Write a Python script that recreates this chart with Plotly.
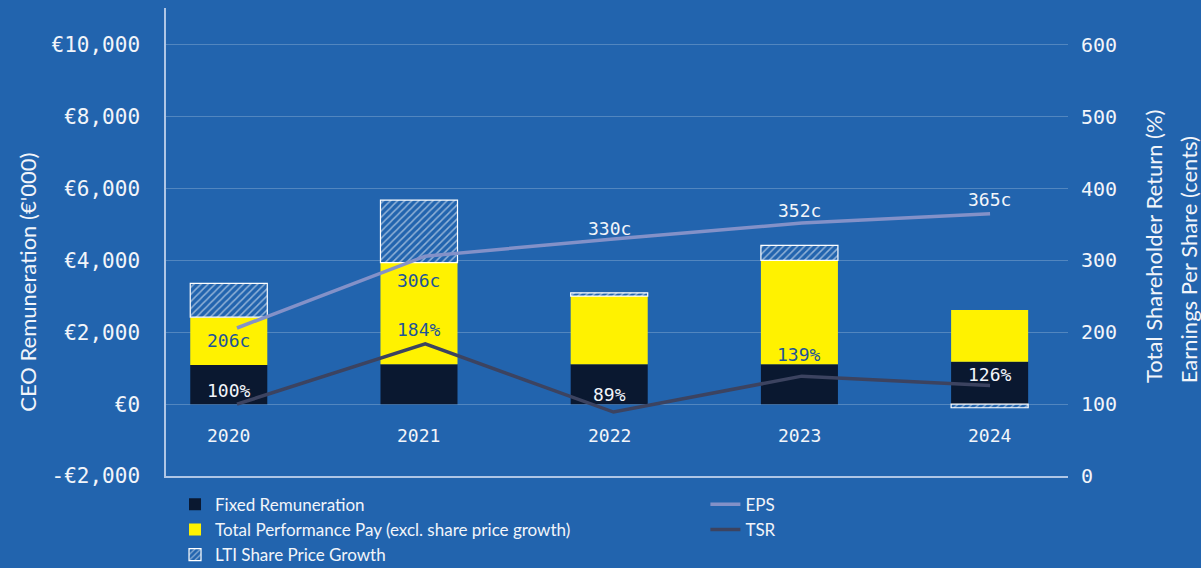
import plotly.graph_objects as go

# ---- data ----
years = ["2020", "2021", "2022", "2023", "2024"]
fixed_pay = [1090, 1110, 1110, 1110, 1180]
performance_pay = [1330, 2830, 1900, 2890, 1440]
lti_growth = [940, 1740, 90, 420, -100]
eps_cents = [206, 306, 330, 352, 365]
tsr_pct = [100, 184, 89, 139, 126]

left_ticks = [-2000, 0, 2000, 4000, 6000, 8000, 10000]
left_tick_text = ["-€2,000", "€0", "€2,000", "€4,000", "€6,000", "€8,000", "€10,000"]
right_ticks = [0, 100, 200, 300, 400, 500, 600]

# ---- styles ----
BG = "#2264AE"
GRID = "rgba(255,255,255,0.22)"
AXIS = "#AFC6E6"
TXT = "#F2F5FA"
DARK_TXT = "#1D5499"
NUM_FONT = "DejaVu Sans Mono"
TXT_FONT = "Lato"

eps_label_shift = [-12, -24, 10, 13, 14]
eps_label_color = [DARK_TXT, DARK_TXT, TXT, TXT, TXT]
tsr_label_shift = [14, 14, 18, 22, 11]
tsr_label_color = [TXT, DARK_TXT, TXT, DARK_TXT, TXT]

fig = go.Figure()

fig.add_trace(go.Bar(
    x=years, y=fixed_pay, name="Fixed Remuneration",
    marker=dict(color="#0A1830", line=dict(width=0)),
    width=0.405, legend="legend", hoverinfo="skip"))
fig.add_trace(go.Bar(
    x=years, y=performance_pay, name="Total Performance Pay (excl. share price growth)",
    marker=dict(color="#FFF200", line=dict(width=0)),
    width=0.405, legend="legend", hoverinfo="skip"))
fig.add_trace(go.Bar(
    x=years, y=lti_growth, name="LTI Share Price Growth",
    marker=dict(color="rgba(0,0,0,0)", line=dict(color="white", width=1.2),
                pattern=dict(shape="/", fgcolor="white", bgcolor=BG, size=5, solidity=0.3)),
    width=0.405, legend="legend", hoverinfo="skip"))

fig.add_trace(go.Scatter(
    x=years, y=eps_cents, name="EPS", mode="lines",
    line=dict(color="#8391C8", width=3.5), xaxis="x2", yaxis="y2",
    legend="legend2", hoverinfo="skip"))
fig.add_trace(go.Scatter(
    x=years, y=tsr_pct, name="TSR", mode="lines",
    line=dict(color="#3C4360", width=3.5), xaxis="x2", yaxis="y2",
    legend="legend2", hoverinfo="skip"))

annotations = []
for i, (v, s, c) in enumerate(zip(eps_cents, eps_label_shift, eps_label_color)):
    annotations.append(dict(x=i, y=v, xref="x", yref="y2", text=f"{v}c", showarrow=False,
                            yshift=s, font=dict(family=NUM_FONT, size=18, color=c)))
for i, (v, s, c) in enumerate(zip(tsr_pct, tsr_label_shift, tsr_label_color)):
    annotations.append(dict(x=i, y=v, xref="x", yref="y2", text=f"{v}%", showarrow=False,
                            yshift=s, font=dict(family=NUM_FONT, size=18, color=c)))
for i, yr in enumerate(years):
    annotations.append(dict(x=i, y=0.0864, xref="x", yref="paper", text=yr, showarrow=False,
                            yanchor="middle", font=dict(family=NUM_FONT, size=18, color=TXT)))

annotations.append(dict(x=-0.153, y=0.415, xref="paper", yref="paper", xanchor="center",
                        yanchor="middle", textangle=-90, showarrow=False,
                        text="CEO Remuneration (€'000)",
                        font=dict(family=TXT_FONT, size=22, color=TXT)))
annotations.append(dict(x=1.094, y=0.195, xref="paper", yref="paper", xanchor="center",
                        yanchor="bottom", textangle=-90, showarrow=False,
                        text="Total Shareholder Return (%)",
                        font=dict(family=TXT_FONT, size=22, color=TXT)))
annotations.append(dict(x=1.133, y=0.195, xref="paper", yref="paper", xanchor="center",
                        yanchor="bottom", textangle=-90, showarrow=False,
                        text="Earnings Per Share (cents)",
                        font=dict(family=TXT_FONT, size=22, color=TXT)))

fig.update_layout(
    width=1201, height=568,
    margin=dict(l=166, r=133, t=8, b=92, autoexpand=False),
    paper_bgcolor=BG, plot_bgcolor=BG,
    barmode="relative",
    showlegend=True,
    annotations=annotations,
    xaxis=dict(type="category", range=[-0.330, 4.412], showticklabels=False,
               showgrid=False, zeroline=False, showline=True, linecolor=AXIS, linewidth=1.5,
               ticks=""),
    xaxis2=dict(type="category", range=[-0.377, 4.414], overlaying="x", visible=False),
    yaxis=dict(range=[-2000, 11028], tickvals=left_ticks, ticktext=left_tick_text,
               showgrid=True, gridcolor=GRID, gridwidth=1, zeroline=False,
               showline=True, linecolor=AXIS, linewidth=1.5, ticks="",
               ticklabelstandoff=20,
               tickfont=dict(family=NUM_FONT, size=21, color=TXT)),
    yaxis2=dict(range=[0, 651.4], overlaying="y", side="right", tickvals=right_ticks,
                showgrid=False, zeroline=False, showline=False, ticks="",
                ticklabelstandoff=12,
                tickfont=dict(family=NUM_FONT, size=20, color=TXT)),
    legend=dict(x=0.01, y=0.143, yref="container", xanchor="left", yanchor="top",
                orientation="v",
                bgcolor="rgba(0,0,0,0)", font=dict(family=TXT_FONT, size=17, color=TXT),
                traceorder="normal"),
    legend2=dict(x=0.598, y=0.143, yref="container", xanchor="left", yanchor="top",
                 orientation="v",
                 bgcolor="rgba(0,0,0,0)", font=dict(family=TXT_FONT, size=17, color=TXT),
                 traceorder="normal"),
)

fig.write_html("out.html")
